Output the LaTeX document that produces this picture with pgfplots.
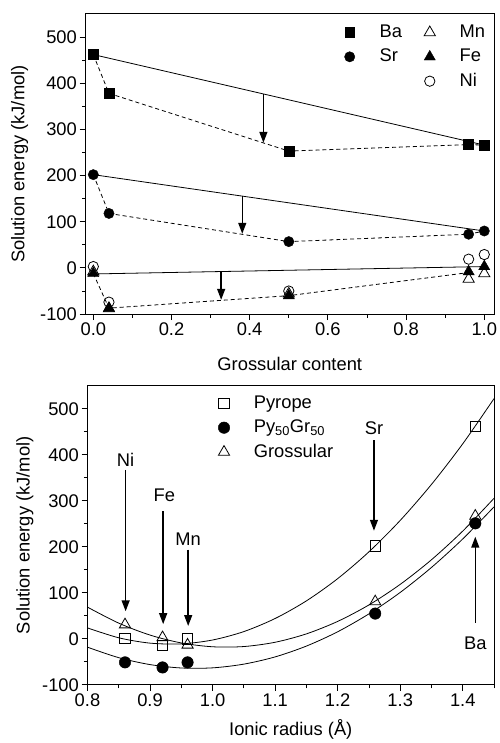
\documentclass[border=0pt]{standalone}
\usepackage{fontspec}
\setmainfont{Liberation Sans}
\usepackage{pgfplots}
\pgfplotsset{compat=1.18}
\usetikzlibrary{arrows.meta}

\newcommand{\fsz}{\fontsize{18.5}{21}\selectfont}

\tikzset{ptr/.style={black, line width=1.4bp, -{Triangle[width=8bp,length=11bp]}}}

\pgfplotsset{
  garnet/.style={
    scale only axis,
    tick align=outside,
    xtick pos=bottom, ytick pos=left,
    major tick length=6bp, minor tick length=3.5bp,
    every tick/.style={black, line width=0.9bp},
    axis line style={line width=1.1bp},
    ymin=-100, ymax=550,
    ytick={-100,0,100,200,300,400,500},
    minor ytick={-50,50,150,250,350,450},
    /pgf/number format/assume math mode=true,
    tick label style={font=\fsz, inner sep=2.5bp},
    label style={font=\fsz},
    clip mode=individual,
    legend cell align=left,
    legend style={draw=none, fill=none, inner sep=0pt, row sep=4.5bp, font=\fsz,
      nodes={inner sep=2bp, text height=13bp, text depth=3bp}},
  },
  wide leg/.style={legend image code/.code={%
    \path[draw=none] (0bp,0bp) -- (40bp,0bp);
    \draw[##1, /tikz/only marks] plot coordinates {(12bp,0bp)};}},
  trend/.style={black, line width=0.8bp, no marks},
  guide/.style={black, line width=0.8bp, dash pattern=on 4bp off 3bp, no marks},
}

\begin{document}
\begin{tikzpicture}[font=\fsz]
% page frame of the reference (502 x 743)
\path (-86bp,316bp) rectangle (416bp,-427bp);

% ---- upper panel: energy vs grossular content
\begin{axis}[garnet, name=upper, at={(0bp,0bp)}, anchor=south west,
  width=411bp, height=302bp,
  xmin=-0.02, xmax=1.025,
  xtick={0,0.2,0.4,0.6,0.8,1.0},
  minor xtick={0.1,0.3,0.5,0.7,0.9},
  xticklabel style={/pgf/number format/.cd, fixed, fixed zerofill, precision=1},
  xlabel={Grossular content},
  ylabel={Solution energy (kJ/mol)},
  xlabel style={at={(axis description cs:0.5,-0.166)}, anchor=center},
  ylabel style={at={(axis description cs:-0.161,0.5)}, anchor=center},
  legend columns=2,
  legend style={at={(axis description cs:0.617,0.972)}, anchor=north west,
    /tikz/every even column/.append style={column sep=14bp}},
]
% straight trends
\addplot[trend, forget plot] coordinates {(0,462) (1,266)};
\addplot[trend, forget plot] coordinates {(0,202) (1,80)};
\addplot[trend, forget plot] coordinates {(0,-13) (1,3)};
% dashed paths through the computed points
\addplot[guide, forget plot] coordinates {(0,462) (0.04,378) (0.5,253) (0.96,267) (1,266)};
\addplot[guide, forget plot] coordinates {(0,202) (0.04,118) (0.5,57) (0.96,73) (1,80)};
\addplot[guide, forget plot] coordinates {(0,-12) (0.04,-87) (0.5,-60) (0.96,-10)};

\addplot[forget plot, only marks, mark=square*, mark size=5bp, mark options={draw=black, fill=black}]
  coordinates {(0,462) (0.04,378) (0.5,253) (0.96,267) (1,266)};
\addplot[forget plot, only marks, mark=*, mark size=5.2bp, mark options={draw=black, fill=black}]
  coordinates {(0,202) (0.04,118) (0.5,57) (0.96,73) (1,80)};
\addplot[forget plot, only marks, mark=o, mark size=5.2bp, mark options={draw=black, fill=white, line width=0.8bp}]
  coordinates {(0,3) (0.04,-74) (0.5,-50) (0.96,19) (1,29)};
\addplot[forget plot, only marks, mark=triangle, mark size=6.5bp, mark options={draw=black, fill=white, line width=0.8bp}]
  coordinates {(0,-8) (0.04,-88) (0.5,-56) (0.96,-24) (1,-12)};
\addplot[forget plot, only marks, mark=triangle*, mark size=6.5bp, mark options={draw=black, fill=black}]
  coordinates {(0,-12) (0.04,-87) (0.5,-60) (0.96,-8) (1,3)};

% arrows
\draw[ptr] (axis cs:0.435,377) -- (axis cs:0.435,271);
\draw[ptr] (axis cs:0.381,155) -- (axis cs:0.381,74);
\draw[ptr] (axis cs:0.327,-8) -- (axis cs:0.327,-69);

% legend (row-major: Ba Mn / Sr Fe / - Ni)
\addlegendimage{only marks, wide leg, mark=square*, mark size=5bp, mark options={draw=black, fill=black}}
\addlegendentry{Ba}
\addlegendimage{only marks, wide leg, mark=triangle, mark size=6.5bp, mark options={draw=black, fill=white, line width=0.8bp}}
\addlegendentry{Mn}
\addlegendimage{only marks, wide leg, mark=*, mark size=5.2bp, mark options={draw=black, fill=black}}
\addlegendentry{Sr}
\addlegendimage{only marks, wide leg, mark=triangle*, mark size=6.5bp, mark options={draw=black, fill=black}}
\addlegendentry{Fe}
\addlegendimage{empty legend}
\addlegendentry{}
\addlegendimage{only marks, wide leg, mark=o, mark size=5.2bp, mark options={draw=black, fill=white, line width=0.8bp}}
\addlegendentry{Ni}
\end{axis}

% ---- lower panel: energy vs ionic radius
\begin{axis}[garnet, name=lower, at={(2bp,-373bp)}, anchor=south west,
  width=409bp, height=301bp,
  xmin=0.8, xmax=1.45,
  xtick={0.8,0.9,1.0,1.1,1.2,1.3,1.4},
  minor xtick={0.85,0.95,1.05,1.15,1.25,1.35,1.45},
  xticklabel style={/pgf/number format/.cd, fixed, fixed zerofill, precision=1},
  xlabel={Ionic radius (Å)},
  ylabel={Solution energy (kJ/mol)},
  xlabel style={at={(axis description cs:0.5,-0.15)}, anchor=center},
  ylabel style={at={(axis description cs:-0.154,0.5)}, anchor=center},
  legend style={at={(axis description cs:0.306,0.975)}, anchor=north west},
]
% fitted curves
\addplot[trend, smooth, forget plot] coordinates {
  (0.80,23.9) (0.85,2.4) (0.90,-9.2) (0.95,-10.8) (1.00,-2.4) (1.05,15.9) (1.10,44.3)
  (1.15,82.6) (1.20,130.9) (1.25,189.2) (1.30,257.4) (1.35,335.7) (1.40,423.9) (1.45,522.1)};
\addplot[trend, smooth, forget plot] coordinates {
  (0.80,69.0) (0.85,34.2) (0.90,8.3) (0.95,-8.8) (1.00,-17.1) (1.05,-16.6) (1.10,-7.3)
  (1.15,10.9) (1.20,38.0) (1.25,73.8) (1.30,118.5) (1.35,172.0) (1.40,234.3) (1.45,305.5)};
\addplot[trend, smooth, forget plot] coordinates {
  (0.80,-18.0) (0.85,-40.8) (0.90,-55.8) (0.95,-63.2) (1.00,-62.9) (1.05,-54.8) (1.10,-39.1)
  (1.15,-15.6) (1.20,15.5) (1.25,54.4) (1.30,101.0) (1.35,155.3) (1.40,217.2) (1.45,286.9)};

\addplot[only marks, wide leg, mark=square, mark size=5.2bp, mark options={draw=black, fill=white, line width=0.8bp}]
  coordinates {(0.86,1) (0.92,-14) (0.96,0) (1.26,202) (1.42,462)};
\addlegendentry{Pyrope}
\addplot[only marks, wide leg, mark=*, mark size=5.8bp, mark options={draw=black, fill=black}]
  coordinates {(0.86,-51) (0.92,-62) (0.96,-51) (1.26,55) (1.42,251)};
\addlegendentry{Py\textsubscript{50}Gr\textsubscript{50}}
\addplot[only marks, wide leg, mark=triangle, mark size=6.5bp, mark options={draw=black, fill=white, line width=0.8bp}]
  coordinates {(0.86,31) (0.92,3) (0.96,-13) (1.26,81) (1.42,267)};
\addlegendentry{Grossular}

% element labels and arrows
\node at (axis cs:0.861,389) {Ni};
\draw[ptr] (axis cs:0.861,367) -- (axis cs:0.861,60);
\node at (axis cs:0.923,311) {Fe};
\draw[ptr] (axis cs:0.921,277) -- (axis cs:0.921,32);
\node at (axis cs:0.961,217) {Mn};
\draw[ptr] (axis cs:0.961,194) -- (axis cs:0.961,28);
\node at (axis cs:1.258,457) {Sr};
\draw[ptr] (axis cs:1.258,432) -- (axis cs:1.258,235);
\node at (axis cs:1.42,-9) {Ba};
\draw[ptr] (axis cs:1.42,35) -- (axis cs:1.42,222);
\end{axis}
\end{tikzpicture}
\end{document}
